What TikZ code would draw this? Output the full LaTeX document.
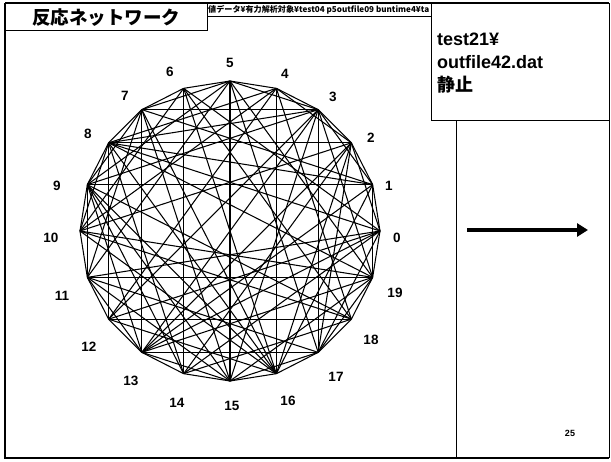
\documentclass[tikz,border=0pt]{standalone}
\usepackage{fontspec}
\setmainfont{Liberation Sans}
\newfontfamily\jp{Noto Sans CJK JP}
\usetikzlibrary{arrows.meta}
\begin{document}
\begin{tikzpicture}[x=1pt,y=-1pt,
  frame/.style={draw=black,line width=1.4pt},
  thin frame/.style={draw=black,line width=1pt},
  edge/.style={draw=black,line width=1.05pt},
  lbl/.style={font=\bfseries\fontsize{13.5}{13.5}\selectfont,inner sep=0pt},
  boxtext/.style={font=\bfseries\fontsize{18}{18}\selectfont,inner sep=0pt,anchor=west}]
\useasboundingbox (0,0) rectangle (611,461);
\fill[white] (0,0) rectangle (611,461);
% frames
\draw[frame] (5,3) -- (609,3);
\draw[frame] (5,3) -- (5,458) -- (609,458);
\draw[thin frame] (609,3) -- (609,458);
\draw[thin frame] (5,3) rectangle (207,30);
\draw[thin frame] (207,3) rectangle (431,16);
\draw[thin frame] (431,3) rectangle (609,120);
\draw[thin frame] (456,120) -- (456,458);
% title and texts
\node[font=\jp\bfseries\fontsize{18.5}{18.5}\selectfont,inner sep=0pt] (title) at (106,18) {反応ネットワーク};
\node[anchor=west,inner sep=0pt] (path) at (208,10) {\resizebox{221pt}{!}{\jp\bfseries 値データ¥有力解析対象¥test04 p5outfile09 buntime4¥ta}};
\node[boxtext] (t1) at (437,39) {test21¥};
\node[boxtext] (t2) at (437,62) {outfile42.dat};
\node[boxtext,font=\jp\bfseries\fontsize{18}{18}\selectfont] (t3) at (437,85) {静止};
\node[font=\bfseries\fontsize{9}{9}\selectfont,inner sep=0pt] (pg) at (570,433) {25};
% arrow
\coordinate (as) at (467,230);
\coordinate (ae) at (588,230);
\draw[line width=4pt,-{Triangle[length=11pt,width=13pt]}] (as) -- (ae);
% network nodes
\foreach \i in {0,...,19}{
  \coordinate (n\i) at ({230+150*cos(18*\i)},{231-150*sin(18*\i)});
}
% labels
\foreach \i/\x/\y in {0/397/238,1/389/186,2/371/138,3/333/97,4/285/74,5/230/63,6/170/72,7/125/96,8/88/134,9/57/186,10/51/238,11/62/296,12/89/347,13/131/381,14/177/403,15/232/406,16/288/401,17/336/377,18/371/340,19/395/293}{
  \node[lbl] (l\i) at (\x,\y) {\i};
}
% edges
\foreach \a/\b in {0/1,1/2,2/3,3/4,4/5,5/6,6/7,7/8,8/9,9/10,10/11,11/12,12/13,13/14,14/15,15/16,16/17,17/18,18/19,19/0,
  0/2,0/6,0/8,0/11,0/12,0/13,0/14,0/17,
  1/3,1/7,1/8,1/9,1/13,1/16,1/19,
  2/4,2/8,2/10,2/13,2/14,2/16,2/17,
  3/5,3/7,3/8,3/9,3/12,3/13,3/15,3/17,3/19,
  4/8,4/10,4/12,4/16,4/18,
  5/7,5/9,5/11,5/15,5/17,5/19,
  6/10,6/14,6/16,6/18,
  7/9,7/11,7/13,7/15,7/16,
  8/10,8/12,8/14,8/16,8/19,
  9/11,9/13,9/14,9/15,9/16,9/18,
  10/16,10/18,10/19,
  11/13,11/15,11/17,11/19,
  12/16,12/18,
  13/15,13/17,13/19,
  14/18,
  15/17,15/19,
  17/19}{
  \draw[edge] (n\a) -- (n\b);
}
\end{tikzpicture}
\end{document}
